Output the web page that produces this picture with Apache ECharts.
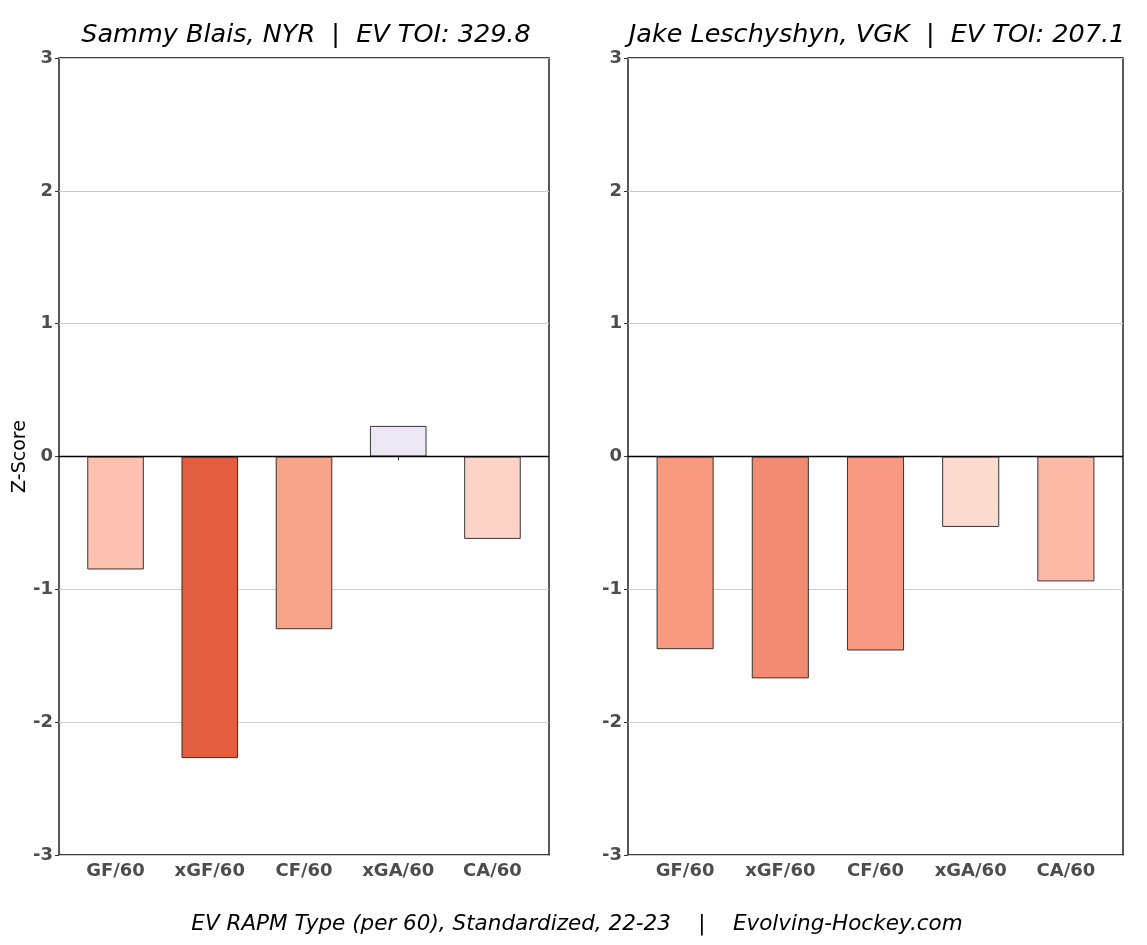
<!DOCTYPE html>
<html><head><meta charset="utf-8">
<script src="https://cdn.jsdelivr.net/npm/echarts@6/dist/echarts.min.js"></script>
<style>html,body{margin:0;padding:0;background:#fff}#c{width:1147px;height:945px}</style>
</head><body><div id="c"></div>
<script>
const categories = ['GF/60','xGF/60','CF/60','xGA/60','CA/60'];
const titleLeft = 'Sammy Blais, NYR  |  EV TOI: 329.8';
const titleRight = 'Jake Leschyshyn, VGK  |  EV TOI: 207.1';
const valuesLeft = [-0.85, -2.27, -1.30, 0.23, -0.62];
const valuesRight = [-1.45, -1.67, -1.46, -0.53, -0.94];
const colorsLeft = ['#fcc1b1', '#e35e41', '#f8a48b', '#ede7f3', '#fdd3c7'];
const colorsRight = ['#f79a80', '#f28b71', '#f79a81', '#fedbd0', '#fcb9a5'];
const yTicks = [-3, -2, -1, 0, 1, 2, 3];
const caption = 'EV RAPM Type (per 60), Standardized, 22-23    |    Evolving-Hockey.com';

const FONT = 'DejaVu Sans';
const chart = echarts.init(document.getElementById('c'));
const positions = categories.map((c,i)=>i+1);

function xAxis(i){
  return {type:'value', gridIndex:i, min:0.4, max:5.6,
    axisLine:{show:false}, splitLine:{show:false},
    axisTick:{show:true, length:4, customValues:positions, lineStyle:{color:'#333'}},
    axisLabel:{customValues:positions, formatter:v=>categories[Math.round(v)-1],
      color:'#4d4d4d', fontFamily:FONT, fontWeight:'bold', fontSize:18, margin:7}};
}
function yAxis(i){
  return {type:'value', gridIndex:i, min:yTicks[0], max:yTicks[yTicks.length-1], interval:1,
    name: i===0 ? 'Z-Score' : '', nameLocation:'middle', nameGap:29,
    nameTextStyle:{fontFamily:FONT, fontSize:19, color:'#000'},
    axisLine:{show:false}, axisTick:{show:true, length:4, lineStyle:{color:'#333'}},
    axisLabel:{color:'#4d4d4d', fontFamily:FONT, fontWeight:'bold', fontSize:18, margin:6},
    splitLine:{show:true, lineStyle:{color:'#cccccc', width:1}}};
}
function series(i, vals, cols, bw){
  return {type:'bar', xAxisIndex:i, yAxisIndex:i, barWidth:bw,
    data: vals.map((v,k)=>({value:[positions[k], v], itemStyle:{color:cols[k]}})),
    itemStyle:{borderColor:'#222', borderWidth:0.9},
    markLine:{silent:true, symbol:'none', label:{show:false},
      lineStyle:{color:'#000', type:'solid', width:1.3}, data:[{yAxis:0}]},
    z:3};
}

chart.setOption({
  animation:false,
  title:[
    {text:titleLeft, left:301, top:17, textAlign:'center',
      textStyle:{fontFamily:FONT, fontStyle:'italic', fontWeight:'normal', fontSize:25.5, color:'#000'}},
    {text:titleRight, left:872, top:17, textAlign:'center',
      textStyle:{fontFamily:FONT, fontStyle:'italic', fontWeight:'normal', fontSize:25.5, color:'#000'}},
    {text:caption, left:572, top:908, textAlign:'center',
      textStyle:{fontFamily:FONT, fontStyle:'italic', fontWeight:'normal', fontSize:21.5, color:'#000'}}
  ],
  grid:[
    {left:59, top:58, width:490, height:797, show:true, borderColor:'#000', borderWidth:1.3, backgroundColor:'#fff'},
    {left:628, top:58, width:495, height:797, show:true, borderColor:'#000', borderWidth:1.3, backgroundColor:'#fff'}
  ],
  xAxis:[xAxis(0), xAxis(1)],
  yAxis:[yAxis(0), yAxis(1)],
  series:[series(0, valuesLeft, colorsLeft, 56.5), series(1, valuesRight, colorsRight, 57)]
});
</script></body></html>
